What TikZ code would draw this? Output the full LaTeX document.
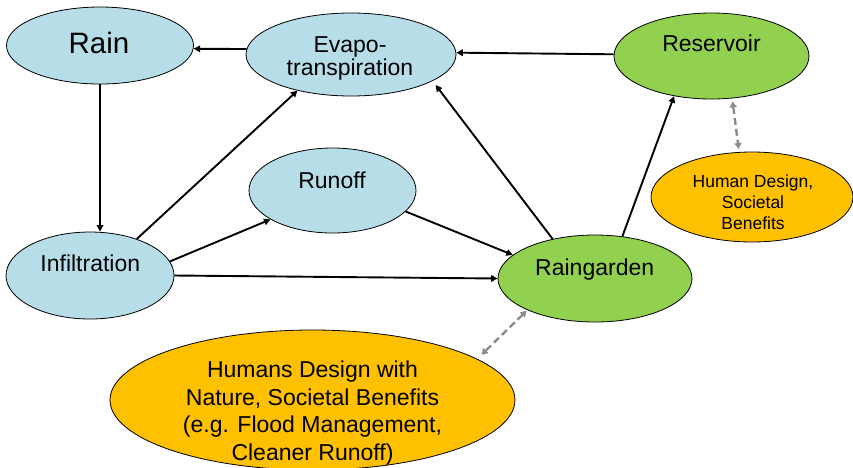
\documentclass[tikz,border=0pt]{standalone}
\usepackage{fontspec}
\setmainfont{Liberation Sans}
\usetikzlibrary{shapes.geometric,arrows.meta}
\definecolor{skyfill}{HTML}{B7DEE8}
\definecolor{leaf}{HTML}{92D050}
\definecolor{amber}{HTML}{FFC000}
\definecolor{dashgray}{HTML}{8C8C8C}
\begin{document}
\begin{tikzpicture}[x=1pt,y=-1pt,
  ell/.style={ellipse,draw=black,line width=0.8pt,inner sep=0pt},
  bluebox/.style={ell,fill=skyfill},
  greenbox/.style={ell,fill=leaf},
  orangebox/.style={ell,fill=amber},
  lbl/.style={anchor=base,inner sep=0pt,font=\fontsize{23}{27}\selectfont},
  smalllbl/.style={anchor=base,inner sep=0pt,font=\fontsize{17.5}{21}\selectfont},
  flow/.style={line width=1.9pt,-{Triangle[length=6.5pt,width=6.5pt]}},
  link/.style={line width=2.4pt,draw=dashgray,dash pattern=on 7pt off 4pt,
    {Triangle[length=6pt,width=7pt]}-{Triangle[length=6pt,width=7pt]}}
]
\useasboundingbox (0,0) rectangle (853,467);

% ellipses
\node[bluebox,minimum width=187pt,minimum height=77pt] (rain) at (100,45.5) {};
\node[bluebox,minimum width=210pt,minimum height=83pt] (evapo) at (351,54.5) {};
\node[greenbox,minimum width=195pt,minimum height=86pt] (reservoir) at (711.5,56) {};
\node[orangebox,minimum width=202pt,minimum height=90pt] (human) at (752,197) {};
\node[bluebox,minimum width=167pt,minimum height=85pt] (runoff) at (332.5,190.5) {};
\node[bluebox,minimum width=168pt,minimum height=87pt] (infil) at (90,275.5) {};
\node[greenbox,minimum width=194pt,minimum height=87pt] (raingarden) at (595,278.5) {};
\node[orangebox,minimum width=405pt,minimum height=140pt] (nature) at (312.5,400) {};

% labels
\node[lbl,font=\fontsize{29.5}{32}\selectfont] (raint) at (99,53.5) {Rain};
\node[lbl] (evapot1) at (350,52.5) {Evapo-};
\node[lbl] (evapot2) at (350,75.5) {transpiration};
\node[lbl] (reservoirt) at (711.5,51.7) {Reservoir};
\node[smalllbl] (humant1) at (753,187.3) {Human Design,};
\node[smalllbl] (humant2) at (753,208.3) {Societal};
\node[smalllbl] (humant3) at (753,229.3) {Benefits};
\node[lbl] (runofft) at (332,188.3) {Runoff};
\node[lbl] (infilt) at (90.3,271.7) {Infiltration};
\node[lbl] (raingardent) at (594.7,275) {Raingarden};
\node[lbl] (naturet1) at (312.5,377.3) {Humans Design with};
\node[lbl] (naturet2) at (312.5,405) {Nature, Societal Benefits};
\node[lbl] (naturet3) at (312.5,432.3) {(e.g. Flood Management,};
\node[lbl] (naturet4) at (312.5,460) {Cleaner Runoff)};

% connectors
\draw[flow] (evapo.177) -- (rain.-2.2);
\draw[flow] (reservoir.179.4) -- (evapo.1.4);
\draw[flow] (rain.south) -- (rain.south |- infil.north);
\draw[flow] (infil.38) -- (evapo.-146);
\draw[flow] (infil.10) -- (runoff.-155.8);
\draw[flow] (runoff.-16.5) -- (raingarden.164);
\draw[flow] (infil.east) -- (raingarden.west);
\draw[flow,shorten >=5pt] (raingarden.137.5) -- (evapo.-18);
\draw[flow] (raingarden.57) -- (reservoir.-133.2);
\draw[link,shorten <=3pt,shorten >=3pt] (reservoir.-64) -- (human.106);
\draw[link,shorten <=1pt,shorten >=6pt] (raingarden.-155.8) -- (nature.14);
\end{tikzpicture}
\end{document}
